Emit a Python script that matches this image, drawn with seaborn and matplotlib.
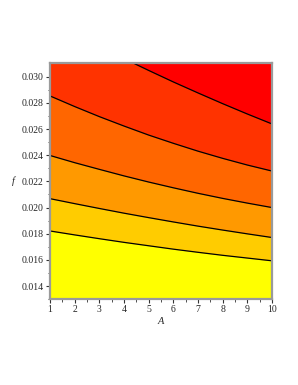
#!/usr/bin/env python
# filled contour of f against A, redrawn from the level lines
import numpy as np
import pandas as pd
import matplotlib
matplotlib.use("Agg")
import matplotlib.pyplot as plt
import seaborn as sns

# A positions where the level lines were read
A = [1, 2, 3, 4, 5, 6, 7, 8, 9, 10]

# level lines, bottom to top (f values at each A)
level1 = [0.01821, 0.01791, 0.01762, 0.01734, 0.01708, 0.01682, 0.01658, 0.01635, 0.01614, 0.01593]
level2 = [0.02068, 0.02030, 0.01993, 0.01957, 0.01923, 0.01890, 0.01858, 0.01828, 0.01799, 0.01771]
level3 = [0.02398, 0.02343, 0.02292, 0.02242, 0.02195, 0.02151, 0.02109, 0.02070, 0.02034, 0.02000]
level4 = [0.02853, 0.02772, 0.02695, 0.02623, 0.02554, 0.02491, 0.02431, 0.02376, 0.02325, 0.02279]
# top line only enters the plot near A = 4.4
A5 = [4.38, 5, 6, 7, 8, 9, 10]
level5 = [0.03104, 0.03048, 0.02960, 0.02876, 0.02794, 0.02715, 0.02639]

band_colors = ["#FFFF00", "#FFCC00", "#FF9900", "#FF6600", "#FF3300", "#FF0000"]

f_min, f_max = 0.01311, 0.03104
y_ticks = [0.014, 0.016, 0.018, 0.020, 0.022, 0.024, 0.026, 0.028, 0.030]

sns.set_style("ticks")
plt.rcParams["font.family"] = ["Liberation Serif", "DejaVu Serif"]

fig = plt.figure(figsize=(2.98, 3.85), dpi=100)
ax = fig.add_axes([0.168, 0.223, 0.745, 0.613])

lines = [(A, level1), (A, level2), (A, level3), (A, level4), (A5, level5)]

# bottom band, then each band stacked from its lower line to the top
ax.fill_between(A, f_min, f_max, color=band_colors[0], lw=0)
for (xs, ys), col in zip(lines, band_colors[1:]):
    ax.fill_between(xs, ys, f_max, color=col, lw=0)

for xs, ys in lines:
    df = pd.DataFrame({"A": xs, "f": ys})
    sns.lineplot(data=df, x="A", y="f", ax=ax, color="black", lw=0.9)

ax.set_xlim(1, 10)
ax.set_ylim(f_min, f_max)
ax.set_xticks(range(1, 11))
ax.set_xticks(np.arange(1.5, 10, 1), minor=True)
ax.set_yticks(y_ticks)
ax.set_yticklabels(["%.3f" % v for v in y_ticks])
ax.set_yticks(np.arange(0.013, 0.031, 0.002), minor=True)

ax.tick_params(which="major", length=3, width=0.8, labelsize=7, pad=1.5, color="#333333")
ax.tick_params(which="minor", length=1.8, width=0.6, color="#333333")

for sp in ax.spines.values():
    sp.set_color("#9a9a9a")
    sp.set_linewidth(1.6)

ax.set_xlabel("A", fontstyle="italic", fontsize=7.5, labelpad=2)
ax.set_ylabel("f", fontstyle="italic", fontsize=7.5, rotation=0, labelpad=6, va="center")

fig.savefig("out.png", dpi=100)
